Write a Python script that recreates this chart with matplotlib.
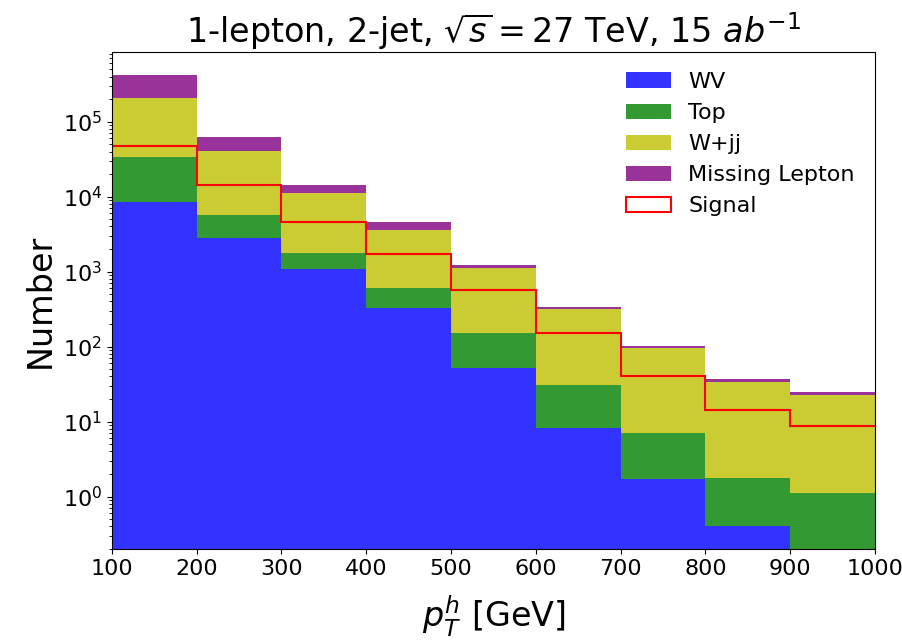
import matplotlib
matplotlib.use("Agg")
import matplotlib.pyplot as plt
from matplotlib.patches import Patch
import numpy as np

# pT bin edges (GeV)
bin_edges = [100, 200, 300, 400, 500, 600, 700, 800, 900, 1000]

# event counts per bin
wv = [8600, 2840, 1070, 331, 51, 8.1, 1.69, 0.41, 0.0]
top = [25400, 2860, 710, 279, 103, 22.3, 5.3, 1.35, 1.11]
wjj = [176000, 35300, 9320, 3030, 976, 284, 89.7, 31.9, 21.7]
missing_lepton = [215000, 21000, 3100, 1010, 100, 24, 6.3, 2.9, 1.9]
signal = [47000, 14200, 4600, 1730, 565, 151, 40.6, 14.2, 8.8]

labels = ['WV', 'Top', 'W+jj', 'Missing Lepton']
colors = ['blue', 'green', 'y', 'purple']

centers = [(a + b) / 2 for a, b in zip(bin_edges[:-1], bin_edges[1:])]

fig = plt.figure(figsize=(9.02, 6.42), dpi=100)
ax = fig.add_axes([0.124, 0.145, 0.846, 0.774])

ax.hist([centers] * 4, bins=bin_edges,
        weights=[wv, top, wjj, missing_lepton],
        stacked=True, color=colors, alpha=0.8, label=labels, log=True)
# signal outline without the vertical edges at the ends
ax.stairs(signal, bin_edges, baseline=None, color='red', linewidth=1.5)

ax.set_xlim(100, 1000)
ax.set_ylim(0.2, 8.5e5)
ax.set_xticks(bin_edges)
ax.tick_params(labelsize=16)

ax.set_title(r'1-lepton, 2-jet, $\sqrt{s} = 27$ TeV, 15 $ab^{-1}$', fontsize=24, pad=4)
ax.set_xlabel(r'$p_T^h$ [GeV]', fontsize=24, labelpad=10)
ax.set_ylabel('Number', fontsize=24)

handles, _ = ax.get_legend_handles_labels()
handles = handles + [Patch(facecolor='none', edgecolor='red', linewidth=1.5)]
ax.legend(handles, labels + ['Signal'], fontsize=16, frameon=False, loc='upper right')

fig.savefig('out.png', dpi=100)
